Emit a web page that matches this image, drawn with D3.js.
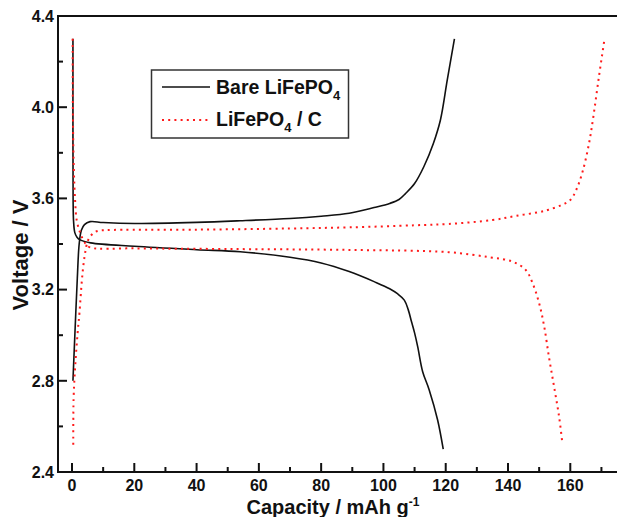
<!DOCTYPE html>
<html>
<head>
<meta charset="utf-8">
<script src="https://cdn.jsdelivr.net/npm/d3@7"></script>
<style>
  body { margin: 0; background: #fff; }
  text { font-family: "Liberation Sans", Arial, sans-serif; font-weight: bold; fill: #111; }
</style>
</head>
<body>
<div id="chart"></div>
<script>
// capacity (mAh/g), voltage (V)
const bareCharge = [[0.3,2.80],[1.0,3.03],[1.7,3.25],[2.3,3.40],[3.0,3.46],[4.0,3.485],[5.8,3.498],[10,3.494],[20,3.49],[40,3.495],[54,3.502],[70,3.512],[80,3.522],[89,3.535],[97,3.56],[102,3.578],[105,3.595],[107,3.62],[110,3.665],[113,3.74],[116,3.84],[118.3,3.944],[120.5,4.12],[122.8,4.30]];
const bareDischarge = [[0.3,4.30],[0.3,3.9],[0.35,3.6],[0.5,3.50],[0.9,3.45],[1.6,3.43],[2.6,3.418],[6,3.405],[20,3.39],[40,3.375],[54,3.366],[70,3.342],[80,3.317],[89,3.279],[97,3.235],[102,3.204],[104.5,3.182],[106.7,3.154],[108,3.11],[109,3.06],[110,3.01],[111,2.95],[112.6,2.84],[114.7,2.76],[117.4,2.628],[119.2,2.50]];
const carbonCharge = [[0.4,2.52],[0.5,2.72],[1.0,2.86],[1.8,3.01],[2.4,3.10],[3.1,3.23],[3.6,3.30],[4.2,3.36],[5.2,3.418],[6.8,3.447],[8.4,3.458],[11,3.461],[40,3.463],[70,3.468],[89,3.473],[110,3.482],[121,3.488],[135,3.505],[142.5,3.523],[150,3.54],[153,3.55],[157,3.57],[160,3.593],[162,3.64],[164,3.72],[166,3.84],[167.4,3.958],[169.2,4.134],[171,4.30]];
const carbonDischarge = [[0.2,4.30],[0.3,3.95],[0.6,3.72],[1.0,3.59],[1.5,3.505],[2.6,3.45],[4.2,3.404],[5.8,3.385],[20,3.381],[50,3.378],[89,3.374],[121,3.364],[134,3.342],[141.4,3.323],[145.7,3.286],[147.9,3.228],[150,3.14],[151.6,3.04],[153.2,2.90],[154.8,2.774],[156.4,2.643],[157.5,2.521]];

const xMajor = [0, 20, 40, 60, 80, 100, 120, 140, 160];
const xMinor = [10, 30, 50, 70, 90, 110, 130, 150, 170];
const yMajor = [2.4, 2.8, 3.2, 3.6, 4.0, 4.4];
const yMinor = [2.6, 3.0, 3.4, 3.8, 4.2];

const width = 617, height = 517;
const mLeft = 58, mRight = 617, mTop = 16, mBottom = 472;

const svg = d3.select("#chart").append("svg")
    .attr("width", width)
    .attr("height", height);

const x = d3.scaleLinear().domain([-4.5, 175]).range([mLeft, mRight]);
const y = d3.scaleLinear().domain([2.4, 4.4]).range([mBottom, mTop]);

// curves
const line = d3.line()
    .x(d => x(d[0]))
    .y(d => y(d[1]))
    .curve(d3.curveCatmullRom.alpha(0.5));

[bareCharge, bareDischarge].forEach(s => {
    svg.append("path")
        .attr("d", line(s))
        .attr("fill", "none")
        .attr("stroke", "#111")
        .attr("stroke-width", 1.6);
});

[carbonCharge, carbonDischarge].forEach(s => {
    svg.append("path")
        .attr("d", line(s))
        .attr("fill", "none")
        .attr("stroke", "#ff1a1a")
        .attr("stroke-width", 2)
        .attr("stroke-dasharray", "2,4.2");
});

// frame
svg.append("path")
    .attr("d", `M${mRight},${mTop}H${mLeft}V${mBottom}H${mRight}`)
    .attr("fill", "none")
    .attr("stroke", "#111")
    .attr("stroke-width", 2);

// x axis, ticks inward
const xAxis = svg.append("g").attr("transform", `translate(0,${mBottom})`);
xAxis.selectAll(".major").data(xMajor).enter().append("line")
    .attr("x1", d => x(d)).attr("x2", d => x(d))
    .attr("y1", 0).attr("y2", -9)
    .attr("stroke", "#111").attr("stroke-width", 2);
xAxis.selectAll(".minor").data(xMinor).enter().append("line")
    .attr("x1", d => x(d)).attr("x2", d => x(d))
    .attr("y1", 0).attr("y2", -5)
    .attr("stroke", "#111").attr("stroke-width", 2);
xAxis.selectAll("text").data(xMajor).enter().append("text")
    .attr("x", d => x(d))
    .attr("y", 19)
    .attr("text-anchor", "middle")
    .style("font-size", "16px")
    .text(d => d);

// y axis, ticks inward
const yAxis = svg.append("g").attr("transform", `translate(${mLeft},0)`);
yAxis.selectAll(".major").data(yMajor).enter().append("line")
    .attr("y1", d => y(d)).attr("y2", d => y(d))
    .attr("x1", 0).attr("x2", 9)
    .attr("stroke", "#111").attr("stroke-width", 2);
yAxis.selectAll(".minor").data(yMinor).enter().append("line")
    .attr("y1", d => y(d)).attr("y2", d => y(d))
    .attr("x1", 0).attr("x2", 5)
    .attr("stroke", "#111").attr("stroke-width", 2);
yAxis.selectAll("text").data(yMajor).enter().append("text")
    .attr("x", -4)
    .attr("y", d => y(d))
    .attr("dy", "0.36em")
    .attr("text-anchor", "end")
    .style("font-size", "16px")
    .text(d => d.toFixed(1));

// axis titles
const xt = svg.append("text")
    .attr("x", 333)
    .attr("y", 514)
    .attr("text-anchor", "middle")
    .style("font-size", "20px");
xt.append("tspan").text("Capacity / mAh g");
xt.append("tspan").attr("dy", -8).style("font-size", "12px").text("-1");

svg.append("text")
    .attr("transform", "translate(28,255) rotate(-90)")
    .attr("text-anchor", "middle")
    .style("font-size", "22px")
    .text("Voltage / V");

// legend
const lg = svg.append("g");
lg.append("rect")
    .attr("x", 151.5).attr("y", 70)
    .attr("width", 197).attr("height", 68)
    .attr("fill", "#fff")
    .attr("stroke", "#333").attr("stroke-width", 1.5);
lg.append("line")
    .attr("x1", 162).attr("x2", 210).attr("y1", 87).attr("y2", 87)
    .attr("stroke", "#111").attr("stroke-width", 1.6);
lg.append("line")
    .attr("x1", 162).attr("x2", 210).attr("y1", 120).attr("y2", 120)
    .attr("stroke", "#ff1a1a").attr("stroke-width", 2)
    .attr("stroke-dasharray", "2,4.2");

const t1 = lg.append("text").attr("x", 216).attr("y", 94).style("font-size", "19.5px");
t1.append("tspan").text("Bare LiFePO");
t1.append("tspan").attr("dy", 6).style("font-size", "13px").text("4");

const t2 = lg.append("text").attr("x", 216).attr("y", 126).style("font-size", "19.5px");
t2.append("tspan").text("LiFePO");
t2.append("tspan").attr("dy", 6).style("font-size", "13px").text("4");
t2.append("tspan").attr("dy", -6).text(" / C");
</script>
</body>
</html>
